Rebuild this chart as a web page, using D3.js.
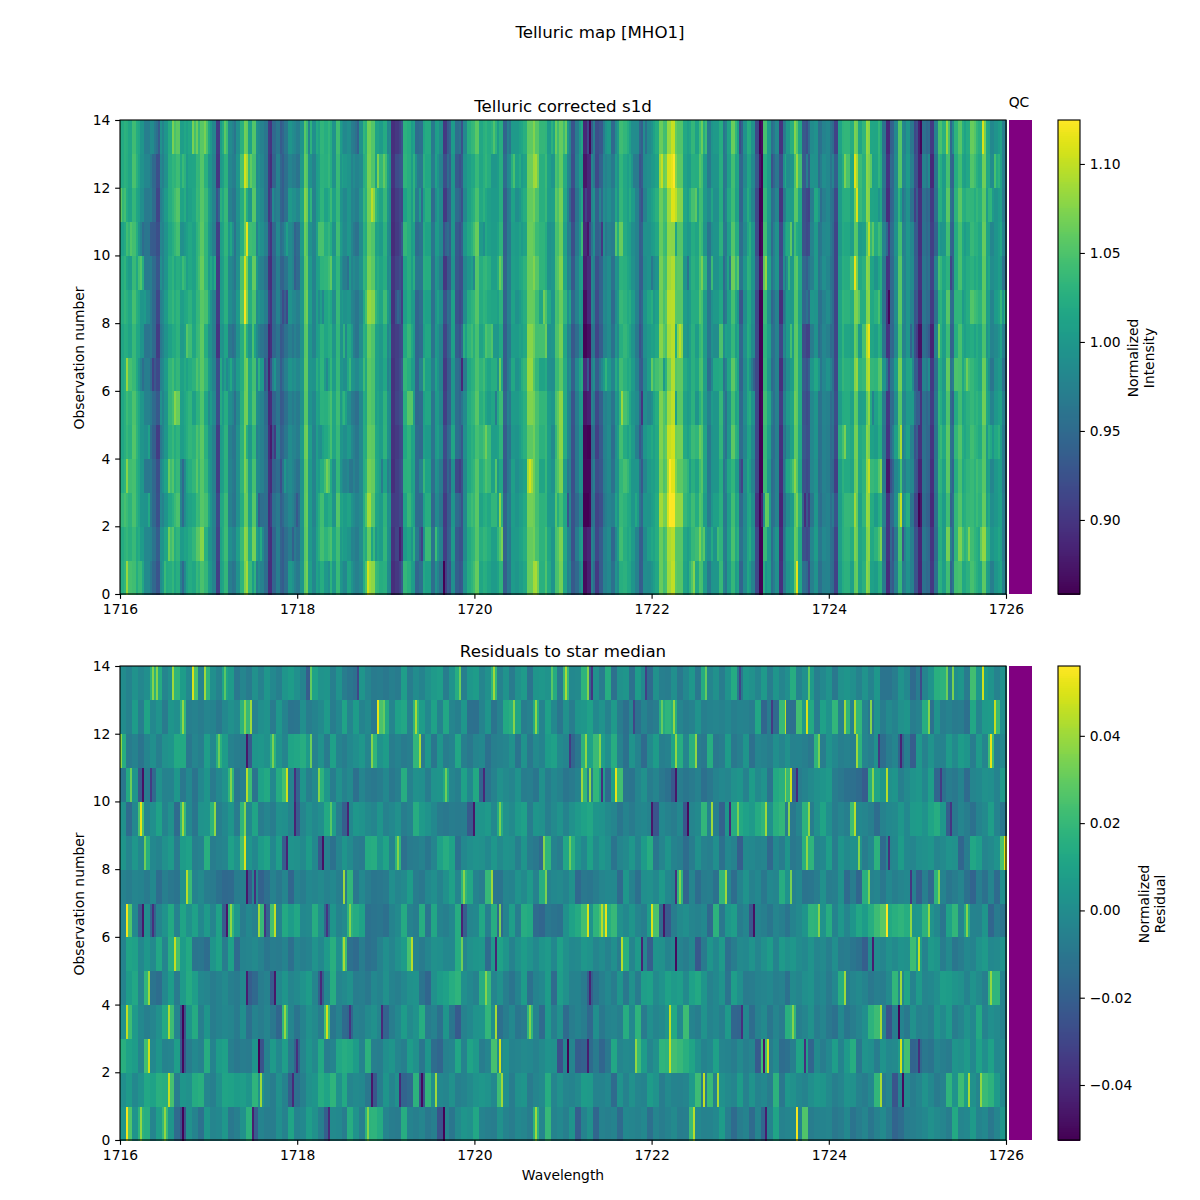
<!DOCTYPE html>
<html>
<head>
<meta charset="utf-8">
<script src="https://cdn.jsdelivr.net/npm/d3@7"></script>
<style>
  body { margin: 0; background: #fff; }
  text { font-family: "DejaVu Sans", sans-serif; fill: #000; }
</style>
</head>
<body>
<svg id="chart" width="1200" height="1200"></svg>
<script>
const wavelengthTicks = [1716, 1718, 1720, 1722, 1724, 1726];
const observationTicks = [0, 2, 4, 6, 8, 10, 12, 14];
const intensityTicks = [0.90, 0.95, 1.00, 1.05, 1.10];
const residualTicks = [-0.04, -0.02, 0, 0.02, 0.04];
const intensityRange = [0.8584, 1.1247];
const residualRange = [-0.0526, 0.056];

// star median spectrum, read left to right across the top panel
const medianProfile = [
  1.02,1.03,1.02,1.04,1.02,1.00,.97,.97,.95,.92,.98,1.00,1.02,1.03,1.04,1.00,1.01,1.02,1.02,1.04,1.06,1.03,1.00,.98,.91,1.01,1.03,.98,.97,1.00,1.03,1.07,1.02,1.05,.99,.98,.96,.90,.95,.97,.94,.96,.99,.98,.97,1.00,1.06,1.00,.98,1.01,1.03,1.02,1.03,1.00,1.04,1.00,.99,1.00,.98,.97,.99,1.03,1.07,1.06,1.02,1.01,1.03,.99,.90,.91,.92,1.02,1.03,1.01,
  .95,.96,1.02,1.02,.96,1.00,.98,.91,.94,1.00,.94,.93,.99,1.02,1.03,1.05,1.02,1.03,1.02,1.01,1.01,1.03,.94,.97,1.01,1.00,1.01,1.02,1.07,1.07,1.05,1.03,1.03,1.00,1.00,1.05,1.07,1.02,.98,.93,.97,1.00,.87,.88,.97,.92,.94,.98,.99,.96,1.00,1.04,1.03,1.02,1.00,.98,.94,.99,1.00,1.01,1.02,1.07,1.05,1.09,1.10,1.06,1.06,1.02,1.01,1.03,1.02,1.05,1.01,.97,
  1.00,1.00,1.03,.97,1.01,1.05,1.02,.95,.99,1.02,.99,.92,.86,1.04,1.01,.96,.98,.90,.97,1.00,1.01,1.06,1.02,.93,.92,.98,1.00,.96,.98,.98,.96,.92,1.01,1.03,1.03,1.02,1.07,1.02,1.03,1.08,1.02,1.01,1.03,.97,.90,.95,.99,1.05,.98,1.00,.98,.93,.89,.96,.95,.90,.96,1.03,1.01,1.05,.95,1.03,1.05,1.02,1.03,1.04,1.03,1.02,1.06,1.01,.98,1.00,1.01,.97
];

// coarse residual level per observation, in units of residualUnit
const residualUnit = 0.0005;
const residualObs0 = [8,52,6,34,30,-6,16,40,8,-30,-52,4,-8,-24,10,-6,-4,10,-18,-12,4,34,-42,-8,-14,-14,2,-10,22,-8,-4,16,4,-12,-40,-2,-4,-14,30,6,-12,34,36,28,-6,-14,-16,30,-8,
  -12,-6,-18,-12,-50,-6,-20,-2,8,4,24,-8,-12,-14,4,-8,-14,-4,-6,-14,34,-6,40,-8,-4,-12,6,-42,-8,4,-34,-10,-12,-8,-30,-4,-6,-10,-4,-26,-6,-14,-8,-2,-14,-12,42,-4,-10,
  -8,-4,14,-12,-30,-14,-8,-30,-6,-34,-8,22,-10,-6,-4,-8,52,-14,-10,-8,-6,-18,-14,-4,-22,-14,-6,-20,-10,-2,-16,-36,-28,-14,-12,-8,-4,4,-2,-6,-14,26,-6,-4,12,-8,-4,-18,-6,8];
const residualObs1 = [2,12,-4,6,24,20,32,30,48,-14,8,4,28,32,-6,-12,4,22,20,14,16,8,36,6,-6,-14,4,-10,-40,-24,-12,4,8,30,22,36,4,26,-6,-2,-4,-18,-46,-14,8,-6,4,-36,-30,
  34,-48,38,2,-4,-6,4,-12,-8,-2,6,10,6,-4,44,2,-14,4,8,-16,-6,-2,30,-6,4,-6,-8,-2,14,12,-8,-8,-4,-30,6,-10,4,-6,-8,14,6,-14,-2,-8,-10,-6,12,44,-14,
  40,-8,4,-2,-6,14,-10,6,-8,-4,-14,34,-18,10,4,-4,-8,2,10,8,-2,-12,-6,6,4,-10,-14,-4,38,-14,-6,-48,-8,-2,-14,-6,6,-4,-16,-10,36,6,44,16,4,-6,42,34,12,-4];
const residualObs2 = [32,20,14,-6,46,-4,8,-8,-6,16,-46,-14,-4,-10,30,-8,14,18,-12,-18,-14,-16,8,-50,-10,12,-4,16,-14,-38,-6,8,-2,26,-14,-8,24,30,26,14,-8,34,-12,-14,2,8,-6,-12,14,
  4,-20,8,-28,-34,-10,-6,24,-8,22,12,-14,-6,48,-2,4,-8,-6,-2,-4,-10,-2,6,4,-52,-8,-6,-42,-38,-30,-16,-34,-18,24,-6,-2,-4,42,14,-6,4,36,34,46,40,32,22,4,-8,
  -4,18,-6,-8,-14,-2,-12,-6,-44,44,-14,-2,-28,-24,-12,22,18,-34,-2,-14,-4,16,-8,12,30,-18,6,2,-14,6,-4,-2,12,46,-36,-32,-18,-22,-6,-12,-16,8,4,12,-4,20,2,18,-4,-2];
const residualObs3 = [4,44,12,-4,-12,-6,4,26,44,-6,-50,8,28,-12,8,-14,-8,-4,-6,-16,2,-26,-8,-14,-6,-18,-34,38,-6,-22,-8,4,-2,-14,46,-20,-10,-30,-34,-10,-12,-2,4,-6,-36,-14,-4,14,-2,
  6,30,-16,-10,-24,8,-20,-44,-10,-4,6,8,38,2,-26,-14,-4,-20,-16,36,-8,-30,12,-12,4,-30,-14,-8,-14,-32,2,-18,-8,-6,-12,30,-4,36,-16,2,-6,-2,8,26,-4,44,-8,-14,6,
  -8,-4,-12,12,-34,-36,-4,-28,-10,-2,-20,-6,-16,32,36,-12,-6,4,-14,-6,-18,-24,-4,-20,-14,-6,2,34,44,-8,-50,-14,-8,-18,4,-10,-6,-12,8,-2,12,-14,-6,6,-4,26,-8,2,-2,-10];
const residualObs4 = [-8,14,24,-6,38,-22,-28,-4,14,-16,12,28,16,-4,-6,-14,-8,-2,-12,-16,-4,-42,-32,-14,-10,-44,-4,8,-6,-2,6,14,-6,-38,-4,30,-6,-2,4,-14,-12,-18,-4,-8,4,-8,-12,-4,4,
  6,-22,-34,4,14,18,30,36,2,-4,-10,30,40,-6,4,-12,-22,-8,14,-24,-8,-4,14,-30,16,4,-10,-8,-16,-40,-22,-12,-4,-14,8,-18,4,-16,16,18,-2,6,20,12,16,-2,18,26,8,
  -10,-4,6,-22,16,2,-16,-14,-8,-6,-4,-12,-10,-24,-2,-6,2,6,-8,-4,-16,-4,30,-12,-6,-2,-8,-18,-12,-14,-2,38,-4,22,-8,12,-6,-4,2,16,14,8,4,-8,6,-2,-12,36,36,-8];
const residualObs5 = [-8,22,18,-4,10,-2,24,-6,30,46,14,26,-22,-20,-28,8,20,-14,18,-30,-8,-6,-2,-10,-20,-14,-16,-8,-26,-6,-12,-8,6,-4,12,32,2,42,-24,-30,-14,-26,-22,-10,2,-6,4,14,48,
  -8,-16,-6,4,2,-4,-4,30,-6,4,8,10,-30,10,20,8,-10,4,14,6,-4,8,12,-4,18,4,-4,-2,10,6,-6,0,-10,2,-14,32,-6,12,-6,-40,6,4,-8,-4,-8,-14,-4,-46,-16,
  8,-4,12,-26,-14,-2,-4,6,-6,4,14,-8,12,4,10,0,-4,6,-6,-2,-12,2,-16,-14,-20,-26,-40,-2,0,-6,4,-2,6,4,44,14,-8,12,8,-14,-2,-20,-14,-4,-8,6,12,-4,-2,6];
const residualObs6 = [-6,52,-4,-44,2,-36,-6,6,26,-10,22,4,18,-4,12,-6,20,-44,36,10,-14,-4,-10,40,-36,46,-8,26,14,24,-4,-2,30,4,-34,8,-8,-2,34,28,20,-24,-22,-20,-26,-8,-2,28,-10,
  -14,30,-22,24,-8,-12,-4,30,-40,-6,-4,24,-12,30,-30,-8,16,-14,30,26,-30,-34,-18,-22,-24,4,20,28,46,6,36,50,30,40,4,-4,8,-6,-12,14,50,-32,-44,-14,-2,2,-6,-10,-4,
  -32,34,-18,10,16,-14,-6,-46,-8,-12,-20,-6,-12,-22,-8,-2,8,36,34,6,30,-8,10,-6,8,24,14,30,44,56,26,32,36,30,8,10,34,6,-4,-20,20,38,-6,28,-8,-10,8,-34,-16,-22];
const residualObs7 = [-10,-14,-6,-8,-16,-4,-28,-12,-18,-22,4,42,-8,-2,-14,-16,-24,-32,-30,-14,-12,-44,-6,-38,-26,-10,-18,-6,-34,-8,-14,-4,-6,-2,-10,-4,-12,-14,38,-18,-4,-14,-20,-18,-16,2,-6,-2,14,
  -14,-18,-4,2,-8,4,18,-6,36,24,-8,-14,40,-20,-22,-6,-8,6,-2,12,-10,30,-10,-4,-2,-8,4,-32,-18,-20,-14,-6,-4,-4,-30,10,-10,-26,2,4,-4,12,-4,-8,34,-36,-6,-28,-14,
  -12,-24,38,-6,-28,-8,6,-10,-4,-18,-4,-6,30,6,-10,-4,-22,-20,-14,4,-14,-12,4,-30,-14,-34,32,-10,-6,-18,-4,-12,-6,-4,-12,-40,-12,-32,36,-8,-20,-14,-6,-24,-36,-12,-24,-6,-30,2];
const residualObs8 = [8,-6,10,-4,30,-4,-8,4,12,-16,14,18,-12,-8,32,-14,-10,-6,18,6,46,8,-4,14,22,-4,16,-42,6,4,-2,14,-4,-46,-10,-24,-6,8,-2,-14,-16,28,30,8,22,-8,34,-26,-16,
  -14,-10,-20,-6,18,30,20,-24,-4,2,6,4,-4,10,-2,6,4,-12,8,-14,-18,-30,36,-8,-14,24,32,8,-4,20,-2,10,2,-22,-6,-2,10,-8,14,30,-20,-6,8,-8,-12,-28,-14,4,-10,
  -12,2,-24,-4,-10,-40,-2,-4,-8,-6,-32,-4,-14,8,-18,-14,32,36,-6,-4,16,-14,8,-2,4,4,-14,-4,34,-30,-6,-4,14,-4,-6,2,4,8,-6,-2,6,4,-34,-14,24,16,-6,-2,6,50];
const residualObs9 = [4,-30,-4,48,-6,2,20,-8,4,-30,38,-4,-20,6,8,34,-12,-4,8,-16,36,-4,22,-14,-6,-14,4,2,-8,-42,-6,4,-4,2,26,16,-14,-40,-4,10,6,-2,-6,8,-10,-4,4,-14,-8,
  30,12,6,-4,-16,-18,-14,-16,-14,-44,6,8,12,-4,28,4,-2,12,18,-14,8,4,-12,-2,6,-8,4,12,20,24,8,6,-2,-6,-20,-8,-16,-6,-4,-8,-48,-4,-10,-14,-4,-48,-6,-2,38,
  -8,-12,-38,8,30,26,18,12,28,36,4,32,38,-14,-18,-6,34,-14,4,22,2,-14,-6,-12,44,-4,-6,-12,-28,-10,-4,-2,10,-4,12,14,6,22,30,10,-40,-18,-6,-14,-24,-8,-2,16,-8,-20];
const residualObs10 = [-20,26,8,-46,-14,-32,4,-10,-8,10,-18,-4,-22,-4,8,-16,-4,6,36,-20,-12,44,-22,20,26,-4,28,46,-8,-36,8,-12,-2,34,10,-14,4,-10,-2,-26,-6,-16,-18,-14,-4,-18,-12,30,-10,
  4,2,-14,6,8,26,-6,-12,20,-4,26,-36,-22,-10,4,-2,-6,6,-14,-12,-20,4,-14,-4,-10,-20,-16,-8,38,-12,38,16,-30,18,46,-20,-22,-6,4,-14,-6,-18,-24,-46,-14,-20,-16,-10,-26,
  -18,-8,-4,-6,4,8,-10,14,-2,6,-22,26,32,40,-36,-14,-8,-2,4,8,12,-14,-18,-24,-26,-30,-42,30,22,10,4,8,-12,-2,6,10,-4,16,-34,-26,-14,-18,-8,-30,-6,-4,4,2,-8,12];
const residualObs11 = [30,-16,-10,-22,-6,2,-12,4,8,26,26,-18,-6,-12,16,-4,32,14,-10,-14,-16,-44,8,10,4,32,6,-6,22,24,30,12,-10,4,-16,18,-8,-14,-4,2,10,-6,36,6,14,-14,-8,-16,-12,
  38,-16,10,-20,8,-14,-8,24,-12,-18,-6,-4,-24,-12,-10,-6,4,-22,6,-18,-2,-8,14,18,-2,-6,-34,-18,34,20,42,16,2,30,-10,-24,6,-8,-30,-2,14,-12,-10,22,30,-6,32,-14,-18,
  30,-18,-14,14,-18,-12,8,-26,-6,-10,-14,2,-6,4,-10,-8,-12,-18,36,-14,6,-4,-12,-10,-12,34,-6,-12,4,-28,-14,-6,-34,-12,-42,10,-10,6,-8,-10,12,-2,14,8,-14,12,-6,44,-12,-4];
const residualObs12 = [0,-10,14,-12,22,-4,6,-16,8,2,36,-12,-10,-14,-6,-8,-18,-4,4,-2,34,40,-10,2,6,-16,10,-8,-22,-20,2,-14,-8,-2,12,-14,-4,22,-6,14,-8,-2,-18,50,26,-6,18,24,-10,
  38,14,-4,20,-8,24,-6,-12,10,-24,-26,-8,8,-22,-10,26,32,22,-14,-10,30,-8,18,-4,-20,4,-14,8,10,18,-4,6,-10,12,-14,-26,-6,-24,-8,-18,-14,28,36,30,-6,-14,-10,6,-12,
  -8,-6,-10,-4,-12,-8,-10,-14,24,-34,-14,-30,40,-22,-26,46,12,26,-14,18,6,38,-10,34,-8,38,-6,-18,6,-14,-2,-8,4,8,-14,-10,30,-24,6,-14,-10,-16,-14,-26,24,-6,12,14,40,2];
const residualObs13 = [0,-8,5,-5,2,34,28,-6,3,36,14,-3,50,-8,36,2,-10,22,12,-18,-6,-16,4,-9,9,-4,-12,8,14,3,-8,-42,20,6,8,-12,6,-14,-20,-26,8,-6,-16,-14,-18,-12,-16,16,-14,
  0,-8,4,12,16,-14,6,30,-12,10,14,-6,4,38,-10,6,-16,4,12,-22,8,10,6,28,-16,42,-4,-2,36,-34,4,-16,30,-26,4,8,-24,14,-4,-30,4,-12,-14,2,-18,-4,10,-18,28,
  -6,4,-14,6,28,-18,10,4,-6,12,-14,8,-6,2,30,-8,4,12,-12,-4,6,-18,4,8,2,-10,6,-8,10,-22,-22,-14,6,-4,-30,-14,-8,6,32,34,-6,2,8,-16,46,10,14,6,-10,4];

// narrow outlier lines per observation: [wavelength, residual]
const linesObs0 = [[1716.07,.054],[1716.23,.038],[1716.5,.038],[1716.7,-.052],[1717.5,-.044],[1718.36,-.04],[1718.8,.036],[1719.67,-.052],[1720.69,.04],[1722.47,.044],[1723.28,-.044],[1723.65,.054]];
const linesObs1 = [[1716.56,.046],[1717.58,.04],[1717.94,-.04],[1718.84,-.046],[1719.16,-.04],[1719.42,-.05],[1719.57,.04],[1720.31,.04],[1722.58,.046],[1722.74,.042],[1724.6,.042],[1724.83,-.05],[1725.58,.042],[1725.71,.038]];
const linesObs2 = [[1716.33,.048],[1716.7,-.05],[1717.56,-.052],[1717.99,-.038],[1720.28,.048],[1721.06,-.052],[1721.28,-.044],[1721.82,.038],[1722.2,.046],[1723.27,-.046],[1723.3,.048],[1723.74,-.038],[1724.81,.048],[1725.01,-.038]];
const linesObs3 = [[1716.07,.046],[1716.56,.042],[1716.7,-.052],[1717.86,.038],[1718.33,.048],[1718.6,-.036],[1718.96,-.04],[1720.24,.042],[1720.63,.036],[1722.21,.046],[1723.02,-.038],[1723.6,.036],[1724.6,.042],[1724.79,-.052]];
const linesObs4 = [[1716.32,.04],[1717.44,-.044],[1717.75,-.046],[1718.26,-.04],[1720.14,.036],[1721.3,-.042],[1724.18,.04],[1724.81,.04],[1725.82,.038]];
const linesObs5 = [[1716.62,.046],[1718.54,.042],[1719.31,.044],[1719.86,.032],[1720.24,-.042],[1721.66,.044],[1721.9,-.042],[1722.28,-.05],[1724.5,-.044],[1725.02,.046]];
const linesObs6 = [[1716.07,.054],[1716.25,-.046],[1716.38,-.038],[1717.2,-.046],[1717.26,.038],[1717.56,.04],[1717.64,-.036],[1717.74,.046],[1718.34,-.036],[1718.6,.036],[1719.86,-.042],[1720.3,.034],[1721.28,.05],[1721.45,.044],[1721.49,.052],[1722.01,.05],[1722.14,-.046],[1723.15,-.048],[1723.9,.036],[1724.67,.056],[1724.93,.038],[1725.14,.038],[1725.56,.036]];
const linesObs7 = [[1716.76,.044],[1717.44,-.046],[1717.52,-.038],[1718.54,.04],[1719.88,.036],[1720.21,.04],[1720.81,.034],[1722.27,-.038],[1722.31,.036],[1722.84,.04],[1723.58,.034],[1724.46,.034],[1724.92,-.036],[1725.24,.036]];
const linesObs8 = [[1716.29,.032],[1717.41,.05],[1717.88,-.042],[1718.28,-.048],[1719.14,.036],[1720.79,.036],[1721.09,.032],[1723.75,.038],[1724.35,.036],[1724.69,-.038],[1725.99,.052]];
const linesObs9 = [[1716.23,.052],[1716.7,.04],[1717.08,.038],[1717.4,.036],[1717.96,-.042],[1718.38,.028],[1718.57,-.042],[1720,-.046],[1720.29,.034],[1722,-.046],[1722.41,-.05],[1722.67,.04],[1722.89,-.04],[1722.97,.034],[1723.28,.04],[1723.56,.036],[1723.79,.038],[1724.31,.044],[1725.39,-.036]];
const linesObs10 = [[1716.12,.032],[1716.26,-.048],[1716.36,-.034],[1717.24,.036],[1717.42,.044],[1717.88,.048],[1717.98,-.038],[1718.24,.036],[1719.69,.032],[1720.12,-.04],[1721.22,.04],[1721.3,.038],[1721.45,-.038],[1721.59,.052],[1722.28,-.046],[1723.5,.038],[1723.58,.048],[1723.64,-.04],[1724.5,.036],[1724.67,.044],[1725.26,-.034]];
const linesObs11 = [[1716.02,.038],[1717.11,.032],[1717.42,-.046],[1717.72,.034],[1718.14,.032],[1718.86,.036],[1719.39,.042],[1721.07,-.034],[1721.26,.038],[1721.42,.036],[1722.27,.038],[1722.49,.038],[1723.9,.034],[1724.32,.04],[1724.58,-.034],[1724.82,-.042],[1725.82,.052]];
const linesObs12 = [[1716.71,.038],[1717.41,.036],[1717.47,.04],[1718.92,.052],[1718.99,.03],[1719.35,.042],[1720.45,.036],[1720.7,.038],[1721.79,-.03],[1722.12,.03],[1722.24,.038],[1723.36,-.034],[1723.52,.046],[1723.75,.05],[1724.18,.04],[1724.31,.042],[1724.48,.036],[1725.13,.036],[1725.87,.046]];
const linesObs13 = [[1716.38,.036],[1716.41,.036],[1716.59,.04],[1716.83,.05],[1716.96,.04],[1717.19,.028],[1718.14,-.044],[1718.16,.03],[1718.7,-.03],[1719.83,.032],[1720.23,.04],[1720.88,.028],[1721.03,.042],[1721.28,.036],[1721.32,-.036],[1721.94,-.032],[1722.61,.03],[1723,-.03],[1723.79,.03],[1725.05,-.028],[1725.34,.032],[1725.4,.034],[1725.75,.048]];

const residualRows = [residualObs0, residualObs1, residualObs2, residualObs3, residualObs4, residualObs5, residualObs6,
  residualObs7, residualObs8, residualObs9, residualObs10, residualObs11, residualObs12, residualObs13];
const lineRows = [linesObs0, linesObs1, linesObs2, linesObs3, linesObs4, linesObs5, linesObs6,
  linesObs7, linesObs8, linesObs9, linesObs10, linesObs11, linesObs12, linesObs13];

const svg = d3.select('#chart');
const axisFont = 13.89;
const titleFont = 16.67;
const nCols = 444;
const cols = d3.range(nCols);

const x = d3.scaleLinear().domain([1716, 1726]).range([120, 1006]);
const colWave = d3.scaleLinear().domain([0, nCols]).range([1716, 1726]);

// residual of one observation on the fine column grid
const rowCells = residualRows.map((row, obs) => {
  const cells = cols.map(k => row[Math.floor(k * row.length / nCols)] * residualUnit);
  lineRows[obs].forEach(([wave, value]) => {
    cells[Math.min(nCols - 1, Math.floor(colWave.invert(wave)))] = value;
  });
  return cells;
});

const styleAxis = (g) => {
  g.select('.domain').remove();
  g.attr('font-family', '"DejaVu Sans", sans-serif').attr('font-size', axisFont);
  g.selectAll('.tick line').attr('stroke', '#000').attr('stroke-width', 1.11);
  g.selectAll('.tick text').attr('fill', '#000');
};

function drawPanel(top, title, titleY, cellValue, range, ticks, cbarLines, cbarLabelX) {
  const bottom = top + 474;
  const y = d3.scaleLinear().domain([0, 14]).range([bottom, top]);
  const color = d3.scaleSequential(d3.interpolateViridis).domain(range).clamp(true);

  const heat = svg.append('g').attr('shape-rendering', 'crispEdges');
  rowCells.forEach((cells, obs) => {
    heat.append('g').selectAll('rect')
      .data(cols)
      .join('rect')
      .attr('x', k => x(colWave(k)))
      .attr('width', k => x(colWave(k + 1)) - x(colWave(k)) + 0.5)
      .attr('y', y(obs + 1))
      .attr('height', y(obs) - y(obs + 1) + 0.5)
      .attr('fill', k => color(cellValue(cells, k)));
  });

  svg.append('rect').attr('x', 120).attr('y', top).attr('width', 886).attr('height', 474)
    .attr('fill', 'none').attr('stroke', '#000').attr('stroke-width', 1.11);

  svg.append('g').attr('transform', `translate(0,${bottom})`)
    .call(d3.axisBottom(x).tickValues(wavelengthTicks).tickFormat(d3.format('d')).tickSize(4.86).tickPadding(4.86))
    .call(styleAxis);
  svg.append('g').attr('transform', 'translate(120,0)')
    .call(d3.axisLeft(y).tickValues(observationTicks).tickFormat(d3.format('d')).tickSize(4.86).tickPadding(4.86))
    .call(styleAxis);

  svg.append('text').attr('x', 563).attr('y', titleY).attr('text-anchor', 'middle')
    .attr('font-size', titleFont).text(title);

  svg.append('text')
    .attr('transform', `translate(84,${top + 238}) rotate(-90)`)
    .attr('text-anchor', 'middle').attr('font-size', axisFont)
    .text('Observation number');

  // QC strip
  svg.append('rect').attr('x', 1009).attr('y', top).attr('width', 23).attr('height', 474).attr('fill', '#800080');

  // colour bar
  const cbY = d3.scaleLinear().domain(range).range([bottom, top]);
  svg.append('g').attr('shape-rendering', 'crispEdges').selectAll('rect')
    .data(d3.range(237))
    .join('rect')
    .attr('x', 1058).attr('width', 22)
    .attr('y', i => top + i * 2)
    .attr('height', 2.5)
    .attr('fill', i => color(cbY.invert(top + i * 2 + 1)));
  svg.append('rect').attr('x', 1058).attr('y', top).attr('width', 22).attr('height', 474)
    .attr('fill', 'none').attr('stroke', '#000').attr('stroke-width', 1.11);
  svg.append('g').attr('transform', 'translate(1080,0)')
    .call(d3.axisRight(cbY).tickValues(ticks).tickFormat(d3.format('.2f')).tickSize(4.86).tickPadding(4.86))
    .call(styleAxis);

  cbarLines.forEach((line, i) => {
    svg.append('text')
      .attr('transform', `translate(${cbarLabelX + i * 16.2},${top + 238}) rotate(-90)`)
      .attr('text-anchor', 'middle').attr('font-size', axisFont)
      .text(line);
  });
}

// top panel is the star median plus each observation's residual
drawPanel(120, 'Telluric corrected s1d', 112,
  (cells, k) => medianProfile[Math.floor(k * medianProfile.length / nCols)] + cells[k],
  intensityRange, intensityTicks, ['Normalized', 'Intensity'], 1138);

drawPanel(666, 'Residuals to star median', 657,
  (cells, k) => cells[k],
  residualRange, residualTicks, ['Normalized', 'Residual'], 1149);

svg.append('text').attr('x', 600).attr('y', 38).attr('text-anchor', 'middle')
  .attr('font-size', titleFont).text('Telluric map [MHO1]');
svg.append('text').attr('x', 1019).attr('y', 107).attr('text-anchor', 'middle')
  .attr('font-size', axisFont).text('QC');
svg.append('text').attr('x', 563).attr('y', 1180).attr('text-anchor', 'middle')
  .attr('font-size', axisFont).text('Wavelength');
</script>
</body>
</html>
